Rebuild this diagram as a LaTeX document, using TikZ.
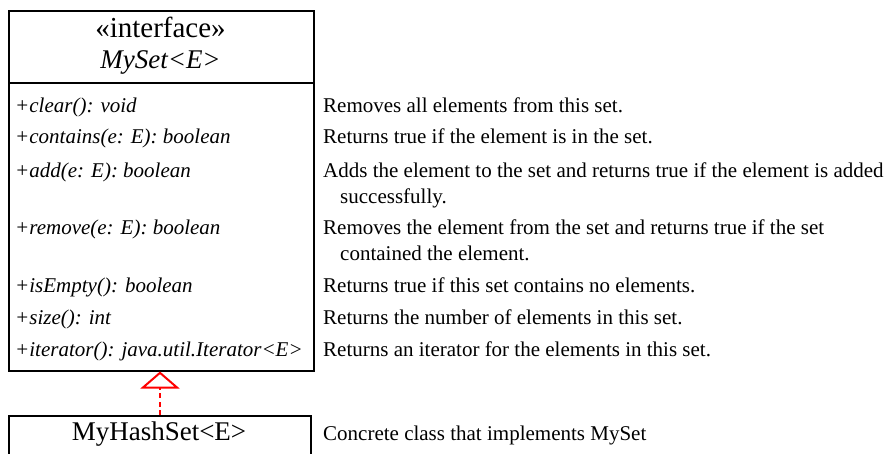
\documentclass[tikz,border=0pt]{standalone}
\usepackage{fontspec}
\setmainfont{Liberation Serif}
\usetikzlibrary{arrows.meta}

\tikzset{
  umlbox/.style={draw=black, line width=1.5pt, anchor=north west, inner sep=0pt},
  method/.style={anchor=base west, inner sep=0pt, font=\fontsize{21}{26}\selectfont\itshape},
  desc/.style={anchor=base west, inner sep=0pt, font=\fontsize{21}{26}\selectfont},
  title/.style={anchor=base, inner sep=0pt, font=\fontsize{27}{32}\selectfont},
  realizes/.style={draw=red, line width=2.5pt, dash pattern=on 5pt off 3.5pt,
    -{Triangle[open, length=17pt, width=39pt, line width=2pt]}}
}

\begin{document}
\begin{tikzpicture}[x=1pt, y=-1pt]
  \useasboundingbox (0,0) rectangle (895,453);

  % interface box with its header compartment
  \node[umlbox, minimum width=305pt, minimum height=360pt] (iface) at (8,10) {};
  \coordinate (hl) at (8,83);
  \coordinate (hr) at (313,83);
  \draw[line width=1.5pt] (hl) -- (hr);
  \node[title, font=\fontsize{29}{32}\selectfont] (stereo) at (160.5,37) {«interface»};
  \node[title, font=\fontsize{27}{32}\selectfont\itshape] (iname) at (160.5,68) {MySet<E>};

  % operations
  \node[method] (m1) at (15,112) {+clear(): void};
  \node[method] (m2) at (15,143) {+contains(e: E): boolean};
  \node[method] (m3) at (15,177) {+add(e: E): boolean};
  \node[method] (m4) at (15,234) {+remove(e: E): boolean};
  \node[method] (m5) at (15,292) {+isEmpty(): boolean};
  \node[method] (m6) at (15,324) {+size(): int};
  \node[method] (m7) at (15,356) {+iterator(): java.util.Iterator<E>};

  % descriptions (wrapped lines are indented)
  \node[desc] (d1) at (323,112) {Removes all elements from this set.};
  \node[desc] (d2) at (323,143) {Returns true if the element is in the set.};
  \node[desc] (d3) at (323,177) {Adds the element to the set and returns true if the element is added};
  \node[desc] (d3b) at (340,203) {successfully.};
  \node[desc] (d4) at (323,234) {Removes the element from the set and returns true if the set};
  \node[desc] (d4b) at (340,260) {contained the element.};
  \node[desc] (d5) at (323,292) {Returns true if this set contains no elements.};
  \node[desc] (d6) at (323,324) {Returns the number of elements in this set.};
  \node[desc] (d7) at (323,356) {Returns an iterator for the elements in this set.};

  % implementing class
  \node[umlbox, minimum width=302pt, minimum height=60pt] (impl) at (8,415) {};
  \node[title] (cname) at (159,440) {MyHashSet<E>};
  \node[desc] (d8) at (323,440) {Concrete class that implements MySet};

  % realization arrow
  \draw[realizes] (impl.north -| 160,0) -- (iface.south -| 160,0);
\end{tikzpicture}
\end{document}
